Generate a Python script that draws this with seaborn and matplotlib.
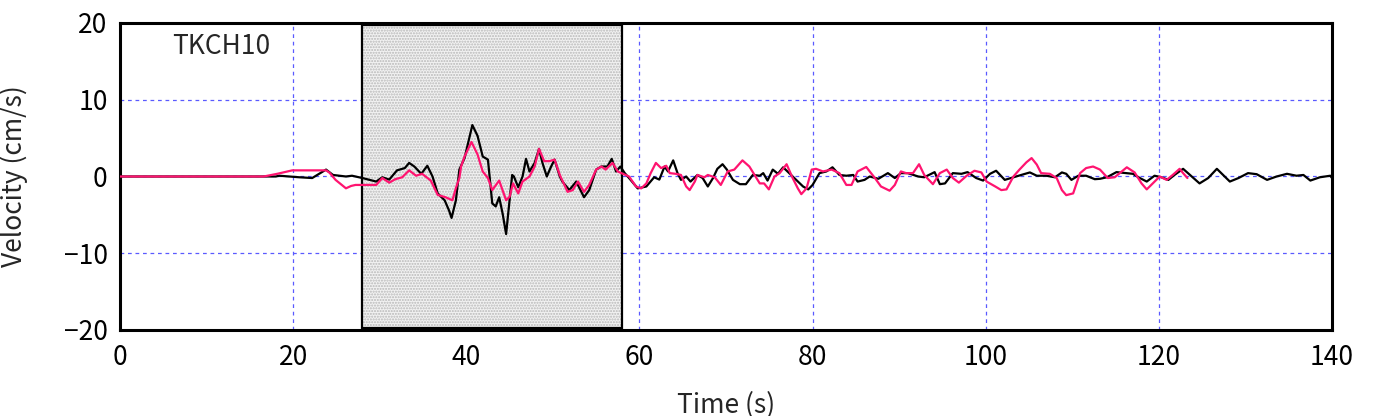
import matplotlib
matplotlib.use("Agg")
import matplotlib.pyplot as plt
import seaborn as sns
import numpy as np
from matplotlib.patches import Rectangle

# ---------------- data ----------------
t_black = [0, 18, 18.4, 20.7, 22.2, 23.8, 24.6, 26.1, 26.8, 28, 29.6, 30.3, 31.1, 32, 32.9, 33.4, 34, 34.8,
           35.5, 36.1, 36.7, 37.5, 38, 38.3, 38.8, 39.2, 39.8, 40.7, 41.3, 41.9, 42.5, 43, 43.4, 43.8, 44.2,
           44.6, 45, 45.3, 45.5, 46, 46.5, 46.9, 47.3, 47.9, 48.4, 48.8, 49.3, 49.8, 50.2, 50.8, 51.1, 51.9,
           52.7, 53.6, 54.2, 55, 55.6, 56.3, 56.8, 57.3, 57.8, 58.3, 58.8, 59.8, 60.8, 61.7, 62.3, 62.9, 63.3,
           63.9, 64.4, 64.8, 65.4, 65.9, 66.7, 67.3, 67.9, 68.5, 69, 69.6, 70.1, 70.8, 71.6, 72.3, 73.1, 73.9,
           74.3, 74.8, 75.4, 76, 76.6, 77.3, 78.1, 78.9, 79.5, 80, 80.8, 81.6, 82.3, 83.1, 83.9, 84.7, 85.2,
           86, 86.6, 87.6, 88.7, 89.5, 90.2, 91, 92.2, 92.9, 94.1, 94.7, 95.3, 96.2, 97.2, 97.9, 98.9, 99.7,
           100.5, 101.2, 102.2, 103.2, 104.1, 105.1, 105.9, 107, 108, 108.8, 109.3, 109.9, 110.7, 111.6,
           112.6, 113.2, 114, 115.1, 116.3, 117, 117.8, 118.6, 119.5, 120.3, 121.1, 121.8, 122.8, 123.6,
           124.7, 125.7, 126.7, 127.6, 128.2, 129.2, 130.3, 131.3, 132.5, 133.6, 134.8, 135.9, 136.7, 137.5,
           138.6, 139.8, 140]
v_black = [0, 0, 0.1, -0.1, -0.2, 0.9, 0.2, 0, 0.1, -0.2, -0.66, -0.1, -0.4, 0.8, 1.1, 1.77, 1.3, 0.35,
           1.4, 0, -2.2, -3.1, -4.4, -5.4, -3.1, 0.9, 2.4, 6.7, 5.3, 2.6, 2.2, -3.5, -3.9, -2.7, -4.85,
           -7.5, -3.1, 0.2, 0, -1.4, 0, 2.3, 0.65, 1.77, 3.6, 1.77, 0, 1.3, 2.2, 0, -0.66, -1.77,
           -0.66, -2.7, -1.77, 0.9, 1.3, 1.3, 2.3, 0.65, 1.3, 0.45, -0.2, -1.55, -1.3, -0.1, -0.4, 1.3, 0.66,
           2.1, 0.44, -0.44, 0, -0.66, 0.2, -0.2, -1.3, -0.2, 1.0, 1.6, 0.9, -0.44, -1.0, -1.0, 0.2, 0.1,
           0.44, -0.53, 0.9, 0.35, 1.2, 0.44, -0.44, -1.3, -1.68, -1.1, 0.44, 0.66, 1.2, 0.2, 0.1, 0.2, -0.66,
           -0.44, 0, -0.3, 0.44, -0.2, 0.44, 0.44, 0, -0.1, 0.57, -1.0, -0.9, 0.44, 0.35, 0.57, -0.2, -0.53,
           0.35, 0.75, -0.44, -0.1, 0.2, 0.53, 0.1, 0.1, -0.1, 0.53, 0.35, -0.44, 0.1, 0.1,
           -0.35, -0.3, -0.1, 0.57, 0.44, 0.35, -0.2, -0.66, 0.1, -0.1, -0.44, 0.2, 1.0, 0.2,
           -0.9, -0.2, 1.0, 0, -0.66, -0.2, 0.44, 0.3, -0.44, 0, 0.35, 0.1, 0.2, -0.53,
           -0.1, 0.1, -0.2]

t_mag = [0, 16.6, 18.2, 19.9, 23, 23.8, 24.2, 24.9, 26.1, 26.7, 27.2, 28, 29.6, 30.3, 31.1, 31.8, 32.6,
         33.4, 34.2, 34.9, 35.9, 36.7, 37.6, 38.4, 38.8, 39.2, 39.4, 39.8, 40.6, 41.3, 41.9, 42.5, 43, 43.8,
         44.6, 45, 45.4, 46, 46.5, 47.3, 47.9, 48.4, 49, 49.6, 50.2, 50.8, 51.7, 52.3, 52.9, 53.6, 54.2, 55,
         55.6, 56.1, 56.9, 57.5, 58.1, 58.8, 59.6, 60.2, 60.8, 61.3, 61.9, 62.5, 63.1, 63.5, 64.2, 64.8,
         65.4, 65.8, 66.4, 66.7, 67.5, 67.9, 68.7, 69.4, 70.2, 70.96, 71.9, 72.7, 73.3, 73.9, 74.4, 74.95,
         75.6, 76.2, 77, 77.7, 78.3, 78.7, 79.3, 79.9, 80.4, 81.2, 82.2, 83.1, 83.9, 84.5, 85.2, 86.2,
         86.6, 87.2, 87.9, 88.9, 89.5, 90.2, 90.8, 91.6, 92.3, 92.9, 93.9, 94.7, 95.5, 96.2, 96.9, 97.8,
         98.7, 99.5, 100.1, 101.1, 101.8, 102.4, 103.2, 103.9, 104.7, 105.3, 105.9, 106.4, 107.4, 108.2,
         108.8, 109.3, 110.1, 110.9, 111.6, 112.4, 113.2, 114.1, 114.9, 116.3, 117.2, 118, 118.6, 119.3,
         120.1, 120.9, 121.6, 122.4, 122.8, 123.3]
v_mag = [0, 0, 0.36, 0.8, 0.8, 0.8, 0.5, -0.44, -1.54, -1.23, -1.1, -1.1, -1.1, -0.2, -0.8, -0.35, -0.1,
         0.8, 0.1, 0.35, -0.53, -2.4, -2.7, -3.1, -1.5, -0.2, 1.3, 2.6, 4.5, 2.87, 0.65, -0.2, -1.77, -0.53,
         -3.1, -2.65, -0.9, -2.2, -0.66, 0, 1.3, 3.6, 2.0, 2.0, 2.2, 0.2, -2.0, -1.77, -0.66, -2.0, -1.1, 0.9,
         1.3, 0.9, 1.77, 0.65, 0.35, 0, -1.3, -1.55, -0.9, 0.44, 1.77, 1.1, 1.4, 0.44, 0.35, 0.2,
         -1.3, -1.77, -0.66, 0.2, -0.1, 0.2, -0.1, -1.1, 0.66, 0.9, 2.1, 1.3, 0.2, -0.9, -0.9, -1.68,
         0, 0.44, 1.6, -0.2, -1.55, -2.3, -1.55, 0.9, 1.0, 0.66, 0.9, 0.44, -1.1, -1.1, 0.66, 1.24,
         0.66, -0.2, -1.3, -1.85, -1.1, 0.66, 0.44, 0.44, 1.6, 0.2, -1.0, 0.44, 0.9, -0.2, -0.8, 0.1,
         0.75, 0.53, -0.66, -1.3, -1.77, -1.68, 0, 0.9, 1.85, 2.4, 1.55, 0.44, 0.35, -0.2,
         -1.77, -2.43, -2.2, 0.44, 1.1, 1.3, 0.9, -0.2, -0.1, 1.2, 0.53, -0.9, -1.68, -0.9,
         0, -0.44, 0.2, 1.0, 0.44, -0.2]

x_ticks = [0, 20, 40, 60, 80, 100, 120, 140]
y_ticks = [-20, -10, 0, 10, 20]
window = (28, 58)
station = "TKCH10"

# ---------------- style ----------------
sns.set_theme(style="white")
plt.rcParams['font.family'] = ['Noto Sans CJK JP', 'DejaVu Sans']
FS = 19

fig = plt.figure(figsize=(13.92, 4.16), dpi=100)
ax = fig.add_axes([120 / 1392, 1 - 330 / 416, 1212 / 1392, 307 / 416])

ax.set_xlim(0, 140)
ax.set_ylim(-20, 20)

# grid
for gx in [20, 40, 60, 80, 100, 120]:
    ax.axvline(gx, color='#5a5aff', lw=0.9, ls=(0, (3, 3)), zorder=1)
for gy in [-10, 0, 10]:
    ax.axhline(gy, color='#5a5aff', lw=0.9, ls=(0, (3, 3)), zorder=1)

# analysis window box
ax.add_patch(Rectangle((window[0], -19.7), window[1] - window[0], 39.4,
                       facecolor='#f2f2f2', edgecolor='#b8b8b8', hatch='......', lw=0, zorder=2))
ax.add_patch(Rectangle((window[0], -19.7), window[1] - window[0], 39.4,
                       facecolor='none', edgecolor='black', lw=1.6, zorder=2.5))

sns.lineplot(x=t_black, y=v_black, color='black', lw=1.6, ax=ax, estimator=None, zorder=3)
sns.lineplot(x=t_mag, y=v_mag, color='#ff1470', lw=1.6, ax=ax, estimator=None, zorder=4)

ax.text(6.0, 16.9, station, fontsize=FS, va='center', ha='left', zorder=5)

ax.set_xticks(x_ticks)
ax.set_yticks(y_ticks)
ax.set_xticklabels([str(v) for v in x_ticks])
ax.set_yticklabels([str(v).replace('-', '\u2212') for v in y_ticks])
ax.tick_params(axis='both', length=0, labelsize=FS, colors='black')
ax.tick_params(axis='x', pad=10)
ax.tick_params(axis='y', pad=9)

for s in ax.spines.values():
    s.set_color('black')
    s.set_linewidth(2.2)

ax.set_xlabel("Time (s)", fontsize=FS)
ax.set_ylabel("Velocity (cm/s)", fontsize=FS)
ax.xaxis.set_label_coords(0.5, -0.2)
ax.yaxis.set_label_coords(-0.076, 0.5)

fig.savefig("out.png", dpi=100)
